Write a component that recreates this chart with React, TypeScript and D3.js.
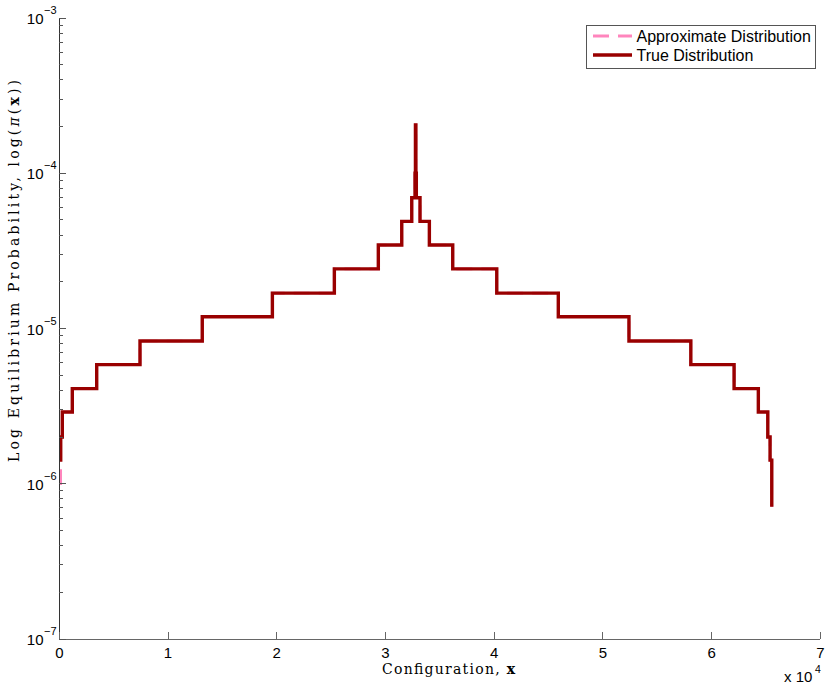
import React from "react";
import * as d3 from "d3";

const W = 830;
const H = 684;

// x tick values (in units of 10^4) and labels
const xTickValues = [0, 1, 2, 3, 4, 5, 6, 7];
const xTickLabels = ["0", "1", "2", "3", "4", "5", "6", "7"];
// y decades (exponents)
const yDecadeExps = [-7, -6, -5, -4, -3];
const yMinorMultipliers = [2, 3, 4, 5, 6, 7, 8, 9];

// step breakpoints of configuration index x
const configX = [
  0, 130, 276, 1196, 3441, 7424, 13150, 19600, 25300, 29345, 31500, 32420,
  32720, 32760, 32800, 32840, 33180, 34040, 36190, 40240, 45900, 52400,
  58090, 62070, 64300, 65170, 65380, 65536,
];
// true distribution value starting at each breakpoint
const trueProb = [
  1.42e-6, 2.0e-6, 2.9e-6, 4.1e-6, 5.85e-6, 8.3e-6, 1.19e-5, 1.69e-5, 2.42e-5,
  3.45e-5, 4.9e-5, 6.96e-5, 1.0e-4, 2.05e-4, 1.0e-4, 6.96e-5, 4.9e-5, 3.45e-5,
  2.42e-5, 1.69e-5, 1.19e-5, 8.3e-6, 5.85e-6, 4.1e-6, 2.9e-6, 2.0e-6, 1.42e-6,
  7.1e-7,
];
// approximate distribution value starting at each breakpoint
const approxProb = [
  1.0e-6, 2.0e-6, 2.9e-6, 4.1e-6, 5.85e-6, 8.3e-6, 1.19e-5, 1.69e-5, 2.42e-5,
  3.45e-5, 4.9e-5, 6.96e-5, 1.0e-4, 2.05e-4, 1.0e-4, 6.96e-5, 4.9e-5, 3.45e-5,
  2.42e-5, 1.69e-5, 1.19e-5, 8.3e-6, 5.85e-6, 4.1e-6, 2.9e-6, 2.0e-6, 1.42e-6,
  7.1e-7,
];

const legendLabels = ["Approximate Distribution", "True Distribution"];

const TRUE_COLOR = "#990000";
const APPROX_COLOR = "#ff85bd";
const SANS = "'Liberation Sans', Arial, Helvetica, sans-serif";
const SERIF = "'DejaVu Serif', 'Liberation Serif', serif";

export default function App() {
  const x = d3.scaleLinear().domain([0, 70000]).range([59.3, 820.3]);
  const y = d3.scaleLog().domain([1e-7, 1e-3]).range([639, 18]);

  const line = d3
    .line<[number, number]>()
    .x((d) => x(d[0]))
    .y((d) => y(d[1]))
    .curve(d3.curveStepAfter);

  const trueData: [number, number][] = configX.map((v, i) => [v, trueProb[i]]);
  const approxData: [number, number][] = configX.map((v, i) => [v, approxProb[i]]);

  const x0 = x(0);
  const yBottom = y(1e-7);
  const yTop = y(1e-3);
  const xRight = x(70000);

  const minorVals: number[] = [];
  yDecadeExps.slice(0, -1).forEach((e) => {
    yMinorMultipliers.forEach((m) => minorVals.push(m * Math.pow(10, e)));
  });

  return (
    <svg
      width={W}
      height={H}
      viewBox={`0 0 ${W} ${H}`}
      style={{ position: "absolute", left: 0, top: 0, background: "#fff" }}
    >
      <rect x={0} y={0} width={W} height={H} fill="#fff" />

      {/* data lines */}
      <path
        d={line(approxData) || ""}
        fill="none"
        stroke={APPROX_COLOR}
        strokeWidth={2.6}
        strokeDasharray="16 9"
      />
      <path
        d={line(trueData) || ""}
        fill="none"
        stroke={TRUE_COLOR}
        strokeWidth={3.4}
        strokeLinejoin="miter"
      />

      {/* axes */}
      <g shapeRendering="crispEdges" stroke="#333" strokeWidth={1}>
        <line x1={x0} x2={x0} y1={yTop} y2={yBottom} />
        <line x1={x0} x2={xRight} y1={yBottom} y2={yBottom} stroke="#666" />
        {xTickValues.map((t) => (
          <line key={"xt" + t} x1={x(t * 1e4)} x2={x(t * 1e4)} y1={yBottom} y2={yBottom - 7} stroke="#666" />
        ))}
        {yDecadeExps.map((e) => (
          <line key={"yt" + e} x1={x0} x2={x0 + 7} y1={y(Math.pow(10, e))} y2={y(Math.pow(10, e))} stroke="#555" />
        ))}
        {minorVals.map((v, i) => (
          <line key={"ym" + i} x1={x0} x2={x0 + 4} y1={y(v)} y2={y(v)} stroke="#555" />
        ))}
      </g>

      {/* x tick labels */}
      {xTickValues.map((t, i) => (
        <text
          key={"xl" + t}
          x={x(t * 1e4)}
          y={657.5}
          textAnchor="middle"
          fontFamily={SANS}
          fontSize={15}
          fill="#000"
        >
          {xTickLabels[i]}
        </text>
      ))}
      {/* x multiplier */}
      <text x={784} y={682} fontFamily={SANS} fontSize={15} fill="#000">
        x 10
      </text>
      <text x={815} y={673} fontFamily={SANS} fontSize={10.5} fill="#000">
        4
      </text>

      {/* y tick labels */}
      {yDecadeExps.map((e) => {
        const ty = y(Math.pow(10, e));
        return (
          <g key={"yl" + e}>
            <text x={43.5} y={ty + 6} textAnchor="end" fontFamily={SANS} fontSize={15} fill="#000">
              10
            </text>
            <text x={44} y={ty - 4} textAnchor="start" fontFamily={SANS} fontSize={11} fill="#000">
              {"\u2212" + Math.abs(e)}
            </text>
          </g>
        );
      })}

      {/* x label */}
      <text x={382} y={674} fontFamily={SERIF} fontSize={14} fill="#000" textLength={133} lengthAdjust="spacing">
        Configuration,{" "}
        <tspan fontWeight="bold">x</tspan>
      </text>

      {/* y label */}
      <text
        transform="translate(19, 271) rotate(-90)"
        textAnchor="middle"
        fontFamily={SERIF}
        fontSize={14}
        fill="#000"
        textLength={382}
        lengthAdjust="spacing"
      >
        Log Equilibrium Probability, log(
        <tspan fontStyle="italic">π</tspan>(<tspan fontWeight="bold">x</tspan>))
      </text>

      {/* legend */}
      <rect x={586.5} y={25.5} width={228.5} height={43} fill="#fff" stroke="#555" strokeWidth={1} shapeRendering="crispEdges" />
      <line x1={593} x2={632} y1={36} y2={36} stroke={APPROX_COLOR} strokeWidth={3} strokeDasharray="16 9" />
      <text x={636.5} y={42} fontFamily={SANS} fontSize={16} fill="#000">
        {legendLabels[0]}
      </text>
      <line x1={593} x2={632} y1={55} y2={55} stroke={TRUE_COLOR} strokeWidth={3.4} />
      <text x={636.5} y={61} fontFamily={SANS} fontSize={16} fill="#000">
        {legendLabels[1]}
      </text>
    </svg>
  );
}
